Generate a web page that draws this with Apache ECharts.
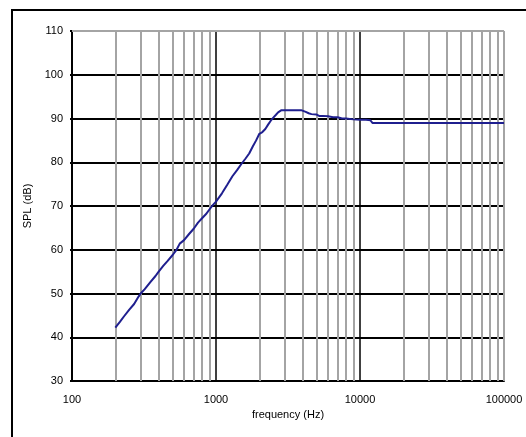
<!DOCTYPE html>
<html>
<head>
<meta charset="utf-8">
<script src="https://cdn.jsdelivr.net/npm/echarts@6/dist/echarts.min.js"></script>
<style>
  html, body { margin: 0; padding: 0; background: #fff; }
  #chart { width: 526px; height: 437px; }
</style>
</head>
<body>
<div id="chart"></div>
<script>
// Measured frequency response: frequency in Hz, sound pressure level in dB
const freqHz = [200, 215, 230, 250, 270, 290, 300, 320, 350, 380, 400, 430, 460, 500, 530, 560, 600, 650, 700, 750, 800, 850, 900, 950,
  1000, 1100, 1200, 1300, 1400, 1500, 1600, 1700, 1800, 1900, 2000, 2100, 2200, 2300, 2400, 2500, 2600, 2700, 2850, 3000, 3500, 3900,
  4000, 4200, 4400, 4600, 5000, 5200, 5500, 6000, 6500, 7000, 7500, 8000, 9000, 10000, 11000, 11800, 12200, 20000, 50000, 100000];
const splDb = [42.2, 43.5, 44.8, 46.3, 47.6, 49.3, 50.0, 51.0, 52.6, 54.0, 55.0, 56.3, 57.4, 58.8, 59.9, 61.4, 62.2, 63.6, 64.8, 66.2, 67.2, 68.1, 69.2, 70.2,
  71.0, 72.9, 74.9, 76.8, 78.2, 79.6, 80.8, 82.0, 83.6, 85.0, 86.5, 86.9, 87.6, 88.6, 89.5, 90.2, 90.8, 91.4, 91.9, 91.9, 91.9, 91.9,
  91.6, 91.5, 91.2, 91.0, 90.9, 90.6, 90.6, 90.5, 90.3, 90.3, 90.0, 90.0, 89.8, 89.7, 89.7, 89.6, 89.0, 89.0, 89.0, 89.0];

// Axis ranges
const freqMin = 100, freqMax = 100000;
const dbMin = 30, dbMax = 110, dbStep = 10;

// Intermediate frequencies (2..9 per decade) for the light grid
const minorFreqs = [];
for (let d = 100; d < freqMax; d *= 10) {
  for (let k = 2; k <= 9; k++) minorFreqs.push(d * k);
}

const font = 'Liberation Sans, Arial, sans-serif';
const chart = echarts.init(document.getElementById('chart'), null, { renderer: 'canvas' });

chart.setOption({
  animation: false,
  backgroundColor: '#fff',
  grid: { left: 72, right: 22, top: 31, bottom: 56, containLabel: false },
  graphic: [{
    type: 'rect',
    shape: { x: 12, y: 10, width: 700, height: 700 },
    style: { fill: 'none', stroke: '#000', lineWidth: 2 },
    silent: true
  }],
  xAxis: {
    type: 'log',
    logBase: 10,
    min: freqMin,
    max: freqMax,
    z: 2,
    name: 'frequency (Hz)',
    nameLocation: 'middle',
    nameGap: 25,
    nameTextStyle: { fontFamily: font, fontSize: 11, color: '#000' },
    axisLine: { show: true, lineStyle: { color: '#000', width: 2 } },
    axisTick: { show: false },
    axisLabel: {
      fontFamily: font, fontSize: 11, color: '#000', margin: 13,
      formatter: v => String(Math.round(v))
    },
    splitLine: { show: true, showMaxLine: false, lineStyle: { color: '#000', width: 1.5 } },
    minorTick: { show: false },
    minorSplitLine: { show: false }
  },
  yAxis: {
    type: 'value',
    min: dbMin,
    max: dbMax,
    interval: dbStep,
    z: 2,
    name: 'SPL (dB)',
    nameLocation: 'middle',
    nameGap: 36,
    nameTextStyle: { fontFamily: font, fontSize: 11, color: '#000' },
    axisLine: { show: true, lineStyle: { color: '#000', width: 2 } },
    axisTick: { show: true, length: 2, lineStyle: { color: '#000', width: 2 } },
    axisLabel: { fontFamily: font, fontSize: 11, color: '#000', margin: 9 },
    splitLine: { show: true, showMaxLine: false, lineStyle: { color: '#000', width: 2 } }
  },
  series: [
    {
      // light grid: intermediate frequencies plus top and right frame
      type: 'line',
      z: 1,
      data: [],
      silent: true,
      markLine: {
        silent: true,
        symbol: ['none', 'none'],
        label: { show: false },
        lineStyle: { color: '#a4a4a4', width: 2, type: 'solid' },
        data: minorFreqs.map(f => ({ xAxis: f })).concat([{ xAxis: freqMax }, { yAxis: dbMax }])
      }
    },
    {
      type: 'line',
      z: 5,
      data: freqHz.map((f, i) => [f, splDb[i]]),
      showSymbol: false,
      symbol: 'none',
      smooth: false,
      lineStyle: { color: '#1f1f8f', width: 2 }
    }
  ]
});
</script>
</body>
</html>
